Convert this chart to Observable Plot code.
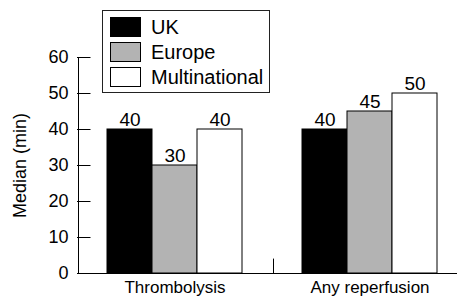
<!DOCTYPE html>
<html><head><meta charset="utf-8">
<script src="https://cdn.jsdelivr.net/npm/d3@7"></script>
<script src="https://cdn.jsdelivr.net/npm/@observablehq/plot@0.6"></script>
<style>
body{margin:0;background:#fff;}
#wrap{position:relative;width:457px;height:296px;font-family:"Liberation Sans",Arial,sans-serif;}
#legend{position:absolute;left:102px;top:10px;width:166px;height:81px;border:1px solid #222;background:#fff;}
.item{position:absolute;left:7px;height:20px;display:flex;align-items:center;font-size:20px;color:#000;white-space:nowrap;}
.sw{width:29px;height:18px;border:1px solid #000;margin-right:10px;box-sizing:content-box;flex:none;}
</style></head><body><div id="wrap"><div id="legend"></div></div>
<script>
const groups = ["Thrombolysis", "Any reperfusion"];
const series = ["UK", "Europe", "Multinational"];
const thrombolysis = [40, 30, 40];
const anyReperfusion = [40, 45, 50];
const colors = ["#000000", "#b3b3b3", "#ffffff"];
const yTicks = [0, 10, 20, 30, 40, 50, 60];
const yLabel = "Median (min)";
// left-edge lines of each group panel: full y axis line for the first, short separator tick for the second
const edgeGroups = ["Thrombolysis", "Any reperfusion"];
const edgeTops = [60, 4];

const values = [thrombolysis, anyReperfusion];
const data = [];
groups.forEach((g, gi) => series.forEach((s, si) => data.push({group: g, series: s, value: values[gi][si]})));
const edges = edgeGroups.map((g, i) => ({group: g, top: edgeTops[i]}));

const font = '"Liberation Sans", Arial, sans-serif';
const chart = Plot.plot({
  width: 457,
  height: 296,
  marginLeft: 77,
  marginRight: 0,
  marginTop: 57,
  marginBottom: 23,
  style: {fontFamily: font, fontSize: "18px", color: "#000", background: "#fff"},
  fx: {domain: groups, range: [77, 467], paddingInner: 0, paddingOuter: 0, axis: null},
  x: {domain: series, paddingInner: 0, paddingOuter: 0.62, axis: null},
  y: {domain: [0, 60], axis: null},
  color: {domain: series, range: colors},
  marks: [
    Plot.barY(data, {fx: "group", x: "series", y: "value", fill: "series", stroke: "#000", strokeWidth: 1}),
    Plot.text(data, {fx: "group", x: "series", y: "value", text: d => String(d.value), lineAnchor: "bottom", dy: -4, fontSize: 19, fill: "#000"}),
    Plot.ruleY([0], {stroke: "#000", strokeWidth: 1}),
    Plot.ruleY(yTicks, {fx: () => groups[0], y: d => d, insetRight: 181.5, stroke: "#000", strokeWidth: 1}),
    Plot.ruleX(edges, {fx: "group", x: () => series[0], y1: 0, y2: "top", dx: -51.5, stroke: "#000", strokeWidth: 1}),
    Plot.axisY({ticks: yTicks, tickSize: 0, tickPadding: 9, fontSize: 18, label: yLabel, labelAnchor: "center", labelOffset: 64, labelArrow: "none"}),
    Plot.axisFx({anchor: "bottom", tickSize: 0, tickPadding: 7, fontSize: 17, label: null})
  ]
});
document.getElementById("wrap").appendChild(chart);
chart.style.position = "absolute";
chart.style.left = "0px";
chart.style.top = "0px";

const legend = document.getElementById("legend");
series.forEach((s, i) => {
  const item = document.createElement("div");
  item.className = "item";
  item.style.top = (6 + 25 * i) + "px";
  const sw = document.createElement("div");
  sw.className = "sw";
  sw.style.background = colors[i];
  const t = document.createElement("span");
  t.textContent = s;
  item.appendChild(sw);
  item.appendChild(t);
  legend.appendChild(item);
});
document.getElementById("wrap").appendChild(legend);
</script>
</body></html>
